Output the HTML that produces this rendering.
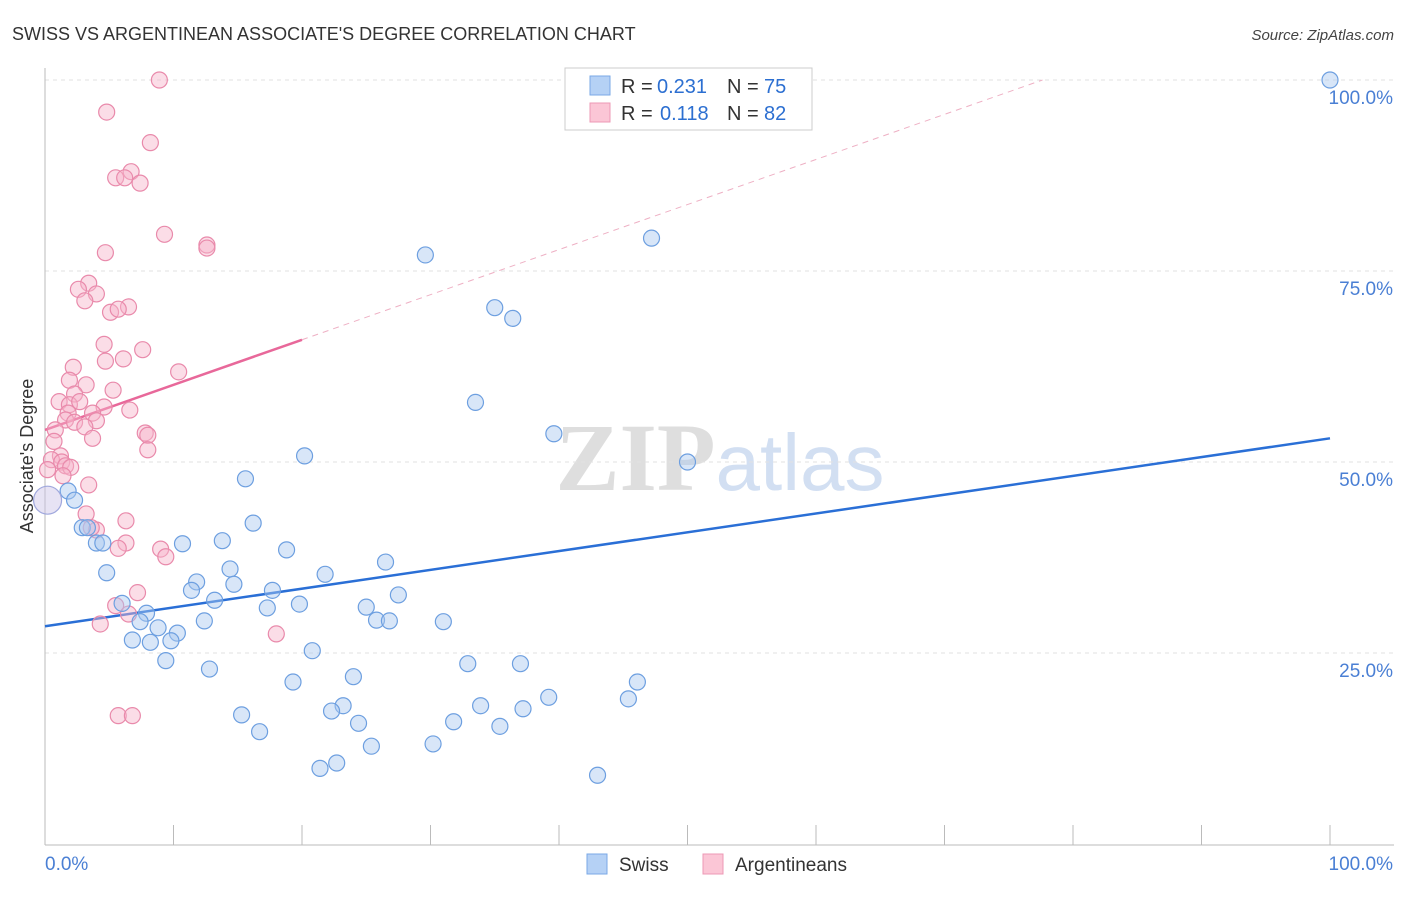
<!DOCTYPE html>
<html><head><meta charset="utf-8"><style>
body{margin:0;background:#fff;font-family:"Liberation Sans",sans-serif;}
svg text{font-family:"Liberation Sans",sans-serif;}
</style></head><body>
<svg id="chart" width="1406" height="892" xmlns="http://www.w3.org/2000/svg">
<text x="12" y="40" font-size="18" fill="#333">SWISS VS ARGENTINEAN ASSOCIATE'S DEGREE CORRELATION CHART</text>
<text x="1394" y="40" font-size="15" font-style="italic" fill="#444" text-anchor="end">Source: ZipAtlas.com</text>
<text x="720" y="490" font-size="96" text-anchor="middle" fill="#ddd" opacity="0.8"><tspan font-family="Liberation Serif" font-weight="bold" fill="#d6d6d6">ZIP</tspan><tspan fill="#c8d8ef" font-size="80">atlas</tspan></text>
<text transform="translate(33,456) rotate(-90)" font-size="18" fill="#333" text-anchor="middle">Associate's Degree</text>
<g id="grid"></g><g id="axes"></g><g id="lines"></g><g id="pts"></g>
<g>
<rect x="565" y="68" width="247" height="62" fill="#fff" stroke="#ccc"/>
<rect x="590" y="76" width="20" height="19" fill="#b5d1f5" stroke="#7aa8e6"/>
<text x="621" y="93" font-size="20" fill="#333">R =</text>
<text x="657" y="93" font-size="20" fill="#2c6fd1">0.231</text>
<text x="727" y="93" font-size="20" fill="#333">N =</text>
<text x="764" y="93" font-size="20" fill="#2c6fd1">75</text>
<rect x="590" y="103" width="20" height="19" fill="#fbc6d6" stroke="#ec98b5"/>
<text x="621" y="120" font-size="20" fill="#333">R =</text>
<text x="660" y="120" font-size="20" fill="#2c6fd1">0.118</text>
<text x="727" y="120" font-size="20" fill="#333">N =</text>
<text x="764" y="120" font-size="20" fill="#2c6fd1">82</text>
</g>
<g>
<rect x="587" y="854" width="20" height="20" fill="#b5d1f5" stroke="#7aa8e6"/>
<text x="619" y="871" font-size="19" fill="#333">Swiss</text>
<rect x="703" y="854" width="20" height="20" fill="#fbc6d6" stroke="#ec98b5"/>
<text x="735" y="871" font-size="19" fill="#333">Argentineans</text>
</g>
</svg>
<script>
const swissX=[100,47.2,29.6,35.0,36.4,33.5,39.6,50.0,20.2,15.6,1.8,2.3,16.2,2.9,3.3,4.0,4.5,10.7,13.8,18.8,4.8,14.4,21.8,26.5,11.8,11.4,14.7,17.7,27.5,6.0,13.2,19.8,17.3,25.0,7.9,25.8,26.8,31.0,12.4,7.4,8.8,10.3,6.8,8.2,9.8,20.8,9.4,12.8,32.9,37.0,46.1,19.3,24.0,39.2,45.4,23.2,33.9,22.3,37.2,15.3,24.4,31.8,35.4,16.7,25.4,30.2,22.7,21.4,43.0];
const swissY=[100,79.3,77.1,70.2,68.8,57.8,53.7,50.0,50.8,47.8,46.2,45.0,42.0,41.4,41.4,39.4,39.4,39.3,39.7,38.5,35.5,36.0,35.3,36.9,34.3,33.2,34.0,33.2,32.6,31.5,31.9,31.4,30.9,31.0,30.2,29.3,29.2,29.1,29.2,29.1,28.3,27.6,26.7,26.4,26.6,25.3,24.0,22.9,23.6,23.6,21.2,21.2,21.9,19.2,19.0,18.1,18.1,17.4,17.7,16.9,15.8,16.0,15.4,14.7,12.8,13.1,10.6,9.9,9.0];
const argX=[8.9,4.8,8.2,6.7,5.5,6.2,7.4,9.3,12.6,12.6,4.7,3.4,2.6,4.0,3.1,6.5,5.1,5.7,4.6,7.6,4.7,6.1,10.4,2.2,1.9,3.2,5.3,2.3,1.1,1.9,2.7,6.6,4.6,1.8,3.7,1.6,2.3,4.0,3.1,0.8,7.8,8.0,0.7,3.7,8.0,1.2,0.5,1.3,1.6,2.0,0.2,1.4,3.4,3.2,6.3,4.0,3.6,6.3,5.7,9.0,9.4,7.2,5.5,6.5,4.3,18.0,5.7,6.8];
const argY=[100,95.8,91.8,88.0,87.2,87.2,86.5,79.8,78.4,78.0,77.4,73.4,72.6,72.0,71.1,70.3,69.6,70.0,65.4,64.7,63.2,63.5,61.8,62.4,60.7,60.1,59.4,58.9,57.9,57.5,57.9,56.8,57.2,56.4,56.4,55.5,55.2,55.4,54.6,54.2,53.8,53.5,52.7,53.1,51.6,50.8,50.3,50.0,49.5,49.3,49.0,48.2,47.0,43.2,42.3,41.1,41.4,39.4,38.7,38.6,37.6,32.9,31.2,30.1,28.8,27.5,16.8,16.8];
const bigPoint=[0.2,45.0];
const swissTrend=[28.5,53.1];
const argTrend=[54.2,66.0];
const yTicks=[25,50,75,100];
const xTickLabels=["0.0%","100.0%"];
const NS="http://www.w3.org/2000/svg";
const sx=v=>45+v*12.85, sy=v=>844-v*7.64;
function mk(parent,tag,attrs){const e=document.createElementNS(NS,tag);for(const k in attrs)e.setAttribute(k,attrs[k]);document.getElementById(parent).appendChild(e);return e;}
yTicks.forEach(t=>{
 const l=mk('grid','line',{x1:45,x2:1394,y1:sy(t),y2:sy(t),stroke:'#e2e2e2','stroke-dasharray':'4,4'});
 
 
 const tx=mk('axes','text',{x:1393,y:sy(t)+24,'font-size':19,fill:'#4a7fd4','text-anchor':'end'});
 tx.textContent=t.toFixed(1)+'%';
 
 
});
mk('axes','line',{x1:45,x2:1394,y1:845,y2:845,stroke:'#bbb'});
mk('axes','line',{x1:45,x2:45,y1:68,y2:845,stroke:'#bbb'});
for(let i=1;i<=10;i++){const t=mk('axes','line',{x1:sx(i*10),x2:sx(i*10),y1:825,y2:845,stroke:'#bbb'});
 
 }
const xl0=mk('axes','text',{x:45,y:870,'font-size':19,fill:'#4a7fd4'});xl0.textContent=xTickLabels[0];


const xl1=mk('axes','text',{x:1393,y:870,'font-size':19,fill:'#4a7fd4','text-anchor':'end'});xl1.textContent=xTickLabels[1];


function dot(x,y,r,f,s,name){const c=mk('pts','circle',{cx:sx(x),cy:sy(y),r:r,fill:f,'fill-opacity':0.45,stroke:s,'stroke-width':1.2});
 
 }
argX.forEach((x,i)=>dot(x,argY[i],8,'#f7b3c9','#e98aab','argentinean-point'));
swissX.forEach((x,i)=>dot(x,swissY[i],8,'#a9c8f0','#6d9fe0','swiss-point'));
dot(bigPoint[0],bigPoint[1],14,'#c9c0e6','#a0a8dd','large-point');
const slope=(argTrend[1]-argTrend[0])/20, xEnd=(100-argTrend[0])/slope;
const d=mk('lines','line',{x1:sx(20),y1:sy(argTrend[1]),x2:sx(xEnd),y2:sy(100),stroke:'#eeb0c4','stroke-dasharray':'6,5','stroke-width':1});


const a=mk('lines','line',{x1:sx(0),y1:sy(argTrend[0]),x2:sx(20),y2:sy(argTrend[1]),stroke:'#e8689a','stroke-width':2.5});


const b=mk('lines','line',{x1:sx(0),y1:sy(swissTrend[0]),x2:sx(100),y2:sy(swissTrend[1]),stroke:'#2a6fd6','stroke-width':2.5});


</script>
</body></html>
